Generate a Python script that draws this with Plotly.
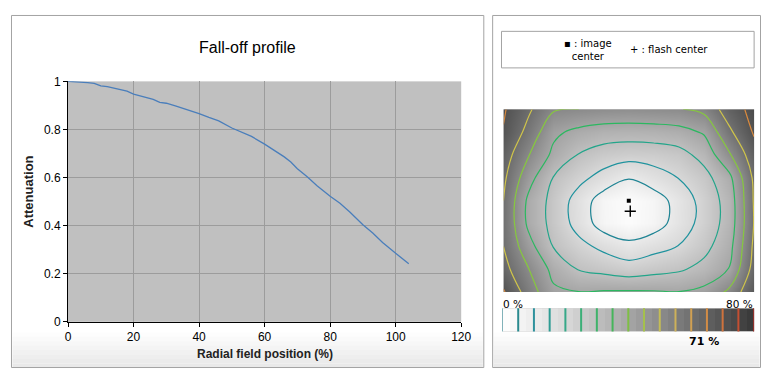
import plotly.graph_objects as go

PAGE_W, PAGE_H = 779, 383
OFF = 8                      # default body margin of the html page
W, H = PAGE_W - 2 * OFF, PAGE_H - 2 * OFF

# ---------------- data ----------------
# Fall-off profile (left chart)
radial = [0, 4, 6, 8, 10, 12, 15, 18, 20, 23, 26, 28, 30, 33, 36, 40, 43, 46, 50, 53,
          56, 60, 63, 66, 68, 70, 73, 76, 80, 83, 86, 90, 93, 96, 100, 102, 104]
atten = [1.0, 0.998, 0.995, 0.992, 0.981, 0.978, 0.970, 0.959, 0.947, 0.937, 0.925, 0.913,
         0.909, 0.897, 0.885, 0.866, 0.850, 0.836, 0.806, 0.789, 0.771, 0.739, 0.713, 0.686,
         0.665, 0.637, 0.603, 0.566, 0.522, 0.493, 0.457, 0.404, 0.369, 0.330, 0.285, 0.263,
         0.242]

# Fall-off map (right panel), % fall-off sampled on a coarse grid (image pixels)
grid_x = [0, 25.5, 51, 76.5, 102, 127.5, 153, 178.5, 204, 229.5, 255]
grid_y = [0, 23.75, 47.5, 71.25, 95, 118.75, 142.5, 166.25, 190]
falloff = [
    [71.0, 61.5, 51.0, 50.0, 49.0, 48.5, 49.0, 49.5, 52.5, 65.0, 73.0],
    [69.5, 57.0, 42.0, 37.5, 35.0, 34.5, 35.0, 36.5, 41.0, 58.0, 71.0],
    [65.0, 50.5, 37.7, 29.5, 25.5, 24.0, 24.5, 26.5, 33.2, 48.6, 66.0],
    [62.0, 43.8, 29.5, 22.8, 16.5, 10.5, 15.4, 20.3, 26.6, 37.2, 62.0],
    [60.0, 37.9, 26.8, 15.9, 5.0, 1.5, 5.0, 13.8, 23.6, 33.9, 61.0],
    [59.5, 37.9, 26.8, 16.4, 5.2, 1.8, 5.2, 14.3, 23.6, 33.9, 60.5],
    [60.0, 43.6, 29.5, 22.9, 17.5, 12.9, 16.6, 20.3, 27.0, 36.4, 62.0],
    [63.5, 50.3, 37.1, 29.5, 27.0, 24.5, 26.6, 28.7, 32.9, 40.3, 64.0],
    [71.0, 55.3, 41.7, 40.2, 40.8, 41.0, 40.8, 40.2, 42.5, 52.0, 69.0],
]
image_center = [127.5, 95]
flash_center = [129, 106]

ring_levels = [10, 20, 30, 40, 50, 60, 70]
ring_colors = ['#1f8494', '#20939e', '#22a58a', '#2bb860', '#86c83e', '#cfc44a', '#d98a3e']

bar_levels = [0, 5, 10, 15, 20, 25, 30, 35, 40, 45, 50, 55, 60, 65, 70, 75, 80]
bar_colors = ['#1f7f8c', '#2a8a8e', '#2e919c', '#2f9c93', '#36a888', '#3caf78', '#3fb36a',
              '#45b55a', '#7fbf45', '#a5c14c', '#c4bd55', '#cdb15a', '#d1a052', '#d28c46',
              '#cf733d', '#c44f32', '#9e2f2a']
bar_step = 2.5
bar_bands = [bar_step / 2 + bar_step * i for i in range(int(80 / bar_step))]
max_falloff_label = '71 %'

gray_scale = [[0.0, '#ffffff'], [0.25, '#d9d9d9'], [0.5, '#a6a6a6'],
              [0.75, '#707070'], [1.0, '#373737']]


def fx(p):
    """page pixel x -> paper fraction"""
    return (p - OFF) / W


def fy(p):
    """page pixel y -> paper fraction"""
    return 1 - (p - OFF) / H


fig = go.Figure()

# left chart line
fig.add_trace(go.Scatter(x=radial, y=atten, mode='lines',
                         line=dict(color='#4a7ebb', width=1.3),
                         hoverinfo='skip', showlegend=False))

# fall-off map
fig.add_trace(go.Heatmap(x=grid_x, y=grid_y, z=falloff, zmin=0, zmax=80,
                         colorscale=gray_scale, zsmooth='best', showscale=False,
                         xaxis='x2', yaxis='y2', hoverinfo='skip'))
for lv, col in zip(ring_levels, ring_colors):
    fig.add_trace(go.Contour(x=grid_x, y=grid_y, z=falloff, xaxis='x2', yaxis='y2',
                             autocontour=False,
                             contours=dict(start=lv, end=lv, size=1, coloring='none',
                                           showlabels=False),
                             line=dict(color=col, width=1.2, smoothing=1),
                             showscale=False, hoverinfo='skip', showlegend=False))
fig.add_trace(go.Scatter(x=[image_center[0]], y=[image_center[1]], mode='markers',
                         marker=dict(symbol='square', size=4, color='black'),
                         xaxis='x2', yaxis='y2', hoverinfo='skip', showlegend=False))
fig.add_trace(go.Scatter(x=[flash_center[0]], y=[flash_center[1]], mode='markers',
                         marker=dict(symbol='cross-thin', size=8,
                                     line=dict(width=1.4, color='black')),
                         xaxis='x2', yaxis='y2', hoverinfo='skip', showlegend=False))

# colour bar
fig.add_trace(go.Heatmap(x=bar_bands, y=[0], z=[bar_bands], zmin=0, zmax=80,
                         colorscale=gray_scale, showscale=False,
                         xaxis='x3', yaxis='y3', hoverinfo='skip'))

shapes = []
left_panel = (8.5, 489)
right_panel = (498, 770.5)
panel_top, panel_bottom = 8.5, 374.5
# bottom gradients of the two panels
grad = ['#fdfdfd', '#fafafa', '#f7f7f7', '#f4f4f4', '#f1f1f1', '#eeeeee', '#ebebeb', '#e9e9e9']
for (x0, x1) in [left_panel, right_panel]:
    for i, g in enumerate(grad):
        y0 = 338 + i * 4.6
        shapes.append(dict(type='rect', xref='paper', yref='paper', layer='below',
                           x0=fx(x0 + 1), x1=fx(x1 - 1), y0=fy(y0),
                           y1=fy(min(y0 + 4.8, panel_bottom)),
                           line=dict(width=0), fillcolor=g))
# panel frames
for (x0, x1) in [left_panel, right_panel]:
    shapes.append(dict(type='rect', xref='paper', yref='paper',
                       x0=fx(x0), x1=fx(x1), y0=fy(panel_top), y1=fy(panel_bottom),
                       line=dict(color='#a3a3a3', width=1)))
# legend box
shapes.append(dict(type='rect', xref='paper', yref='paper',
                   x0=fx(507), x1=fx(764), y0=fy(25), y1=fy(63),
                   line=dict(color='#a3a3a3', width=1), fillcolor='white'))
# colour-bar lines
for lv, col in zip(bar_levels, bar_colors):
    shapes.append(dict(type='line', xref='x3', yref='y3 domain', x0=lv, x1=lv, y0=0, y1=1,
                       line=dict(color=col, width=1 if lv == 0 else 2)))

arial = 'Liberation Sans, Arial, sans-serif'
tah = 'DejaVu Sans, Verdana, sans-serif'


def ann(text, x, y, size, family, xanchor='center', angle=0, color='black'):
    return dict(text=text, x=fx(x), y=fy(y), xref='paper', yref='paper',
                xanchor=xanchor, yanchor='middle', showarrow=False, textangle=angle,
                align='center', font=dict(family=family, size=size, color=color))


annotations = [
    ann('Fall-off profile', 249, 42, 16, arial),
    ann('<b>Radial field position (%)</b>', 266, 360, 12, arial, color='#222'),
    ann('<b>Attenuation</b>', 26, 192, 13, arial, angle=-90, color='#222'),
    ann('▪ : image<br>center', 595, 44.5, 10, tah),
    ann('+ : flash center', 677, 44, 10, tah),
    ann('0 %', 507, 308, 10.5, tah, xanchor='left'),
    ann('80 %', 765, 308, 10.5, tah, xanchor='right'),
    ann('<b>' + max_falloff_label + '</b>', 713, 347, 11, tah),
]

axis_common = dict(showgrid=True, gridcolor='#9c9c9c', gridwidth=1, showline=True,
                   linecolor='black', linewidth=1, ticks='outside', ticklen=4,
                   tickcolor='black', zeroline=False, fixedrange=True,
                   tickfont=dict(family=arial, size=12, color='black'))

fig.update_layout(
    width=W, height=H, margin=dict(l=0, r=0, t=0, b=0),
    paper_bgcolor='white', plot_bgcolor='#c0c0c0', showlegend=False,
    xaxis=dict(domain=[fx(66), fx(466)], range=[0, 120], dtick=20, anchor='y',
               **axis_common),
    yaxis=dict(domain=[fy(327), fy(77)], range=[0, 1], dtick=0.2, anchor='x',
               **axis_common),
    xaxis2=dict(domain=[fx(509), fx(764)], range=[0, 255], visible=False, anchor='y2',
                fixedrange=True),
    yaxis2=dict(domain=[fy(296), fy(106)], range=[190, 0], visible=False, anchor='x2',
                fixedrange=True),
    xaxis3=dict(domain=[fx(508), fx(764)], range=[0, 80], visible=False, anchor='y3',
                fixedrange=True),
    yaxis3=dict(domain=[fy(337), fy(313)], range=[-0.5, 0.5], visible=False, anchor='x3',
                fixedrange=True),
    shapes=shapes, annotations=annotations,
)

fig.write_html('out.html', config={'displayModeBar': False})
